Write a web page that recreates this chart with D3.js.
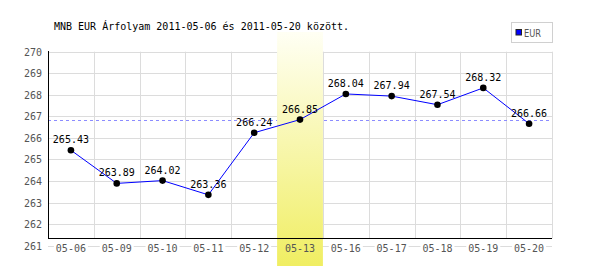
<!DOCTYPE html>
<html><head><meta charset="utf-8">
<script src="https://cdn.jsdelivr.net/npm/d3@7"></script>
<style>body{margin:0;background:#fff}svg{display:block}</style>
</head><body>
<script>
const categories = ["05-06","05-09","05-10","05-11","05-12","05-13","05-16","05-17","05-18","05-19","05-20"];
const values = [265.43,263.89,264.02,263.36,266.24,266.85,268.04,267.94,267.54,268.32,266.66];
const yTicks = [261,262,263,264,265,266,267,268,269,270];
const highlightCat = "05-13";
const refValue = 266.85;
const title = "MNB EUR Árfolyam 2011-05-06 és 2011-05-20 között.";
const seriesName = "EUR";

const W = 600, H = 270;
const svg = d3.select("body").append("svg").attr("width", W).attr("height", H);
const font = "'DejaVu Sans Mono', monospace";

const x = d3.scaleBand().domain(categories).range([48, 552]).padding(0);
const y = d3.scaleLinear().domain([261, 270]).range([245.7, 51.7]);
const plotBottom = 238.3;

const defs = svg.append("defs");
const grad = defs.append("linearGradient").attr("id","hl").attr("x1",0).attr("y1",0).attr("x2",0).attr("y2",1);
grad.append("stop").attr("offset","0%").attr("stop-color","#fffff4");
grad.append("stop").attr("offset","100%").attr("stop-color","#f0ee62");

// horizontal gridlines
svg.append("g").selectAll("line").data(yTicks).join("line")
  .attr("x1", 48).attr("x2", 552)
  .attr("y1", d => Math.round(y(d)) + 0.5).attr("y2", d => Math.round(y(d)) + 0.5)
  .attr("stroke", "#dcdcdc").attr("stroke-width", 1);

// vertical gridlines (band boundaries)
svg.append("g").selectAll("line").data(categories).join("line")
  .attr("x1", d => Math.round(x(d) + x.bandwidth()) + 0.5)
  .attr("x2", d => Math.round(x(d) + x.bandwidth()) + 0.5)
  .attr("y1", y(270)).attr("y2", plotBottom)
  .attr("stroke", "#dcdcdc").attr("stroke-width", 1);

// reference dashed line
svg.append("line")
  .attr("x1", 48).attr("x2", 552)
  .attr("y1", Math.round(y(refValue)) + 0.5).attr("y2", Math.round(y(refValue)) + 0.5)
  .attr("stroke", "#8c8cff").attr("stroke-width", 1).attr("stroke-dasharray", "3,3");

// white backgrounds behind x labels
svg.append("g").selectAll("rect").data(categories).join("rect")
  .attr("x", d => x(d) + x.bandwidth()/2 - 17).attr("y", 241)
  .attr("width", 34).attr("height", 11).attr("fill", "#fff");

// highlight band
svg.append("rect")
  .attr("x", x(highlightCat)).attr("y", 32)
  .attr("width", x.bandwidth()).attr("height", 266 - 32)
  .attr("fill", "url(#hl)");

// axes lines
svg.append("line").attr("x1", 48.5).attr("x2", 48.5).attr("y1", 51).attr("y2", plotBottom + 0.5)
  .attr("stroke", "#000");
svg.append("line").attr("x1", 48).attr("x2", 552).attr("y1", Math.round(plotBottom) + 0.5).attr("y2", Math.round(plotBottom) + 0.5)
  .attr("stroke", "#000");

// y labels
svg.append("g").selectAll("text").data(yTicks).join("text")
  .attr("x", 42).attr("y", d => y(d) + 4)
  .attr("text-anchor", "end").attr("font-family", font).attr("font-size", 10)
  .attr("fill", "#555").text(d => d);

// x labels
svg.append("g").selectAll("text").data(categories).join("text")
  .attr("x", d => x(d) + x.bandwidth()/2).attr("y", 252)
  .attr("text-anchor", "middle").attr("font-family", font).attr("font-size", 10)
  .attr("fill", "#555").text(d => d);

// line
const pts = categories.map((c, i) => [x(c) + x.bandwidth()/2, y(values[i])]);
svg.append("path").attr("d", d3.line()(pts))
  .attr("fill", "none").attr("stroke", "#0000ff").attr("stroke-width", 1);

// points
svg.append("g").selectAll("circle").data(pts).join("circle")
  .attr("cx", d => d[0]).attr("cy", d => d[1]).attr("r", 3.3).attr("fill", "#000");

// value labels
svg.append("g").selectAll("text").data(values).join("text")
  .attr("x", (d, i) => pts[i][0]).attr("y", (d, i) => pts[i][1] - 7)
  .attr("text-anchor", "middle").attr("font-family", font).attr("font-size", 10)
  .attr("fill", "#000").text(d => d.toFixed(2));

// title
svg.append("text").attr("x", 54).attr("y", 29.5)
  .attr("font-family", font).attr("font-size", 10).attr("fill", "#000").text(title);

// legend
svg.append("rect").attr("x", 511.5).attr("y", 22.5).attr("width", 41).attr("height", 20)
  .attr("fill", "#fff").attr("stroke", "#d0d0d0");
svg.append("rect").attr("x", 516).attr("y", 29.5).attr("width", 5.5).attr("height", 5.5)
  .attr("fill", "#0000ff").attr("stroke", "#222").attr("stroke-width", 1);
svg.append("text").attr("x", 524).attr("y", 36.5)
  .attr("font-family", "'DejaVu Sans', sans-serif").attr("font-size", 10)
  .attr("textLength", 17).attr("lengthAdjust", "spacingAndGlyphs")
  .attr("fill", "#555").text(seriesName);
</script>
</body></html>
